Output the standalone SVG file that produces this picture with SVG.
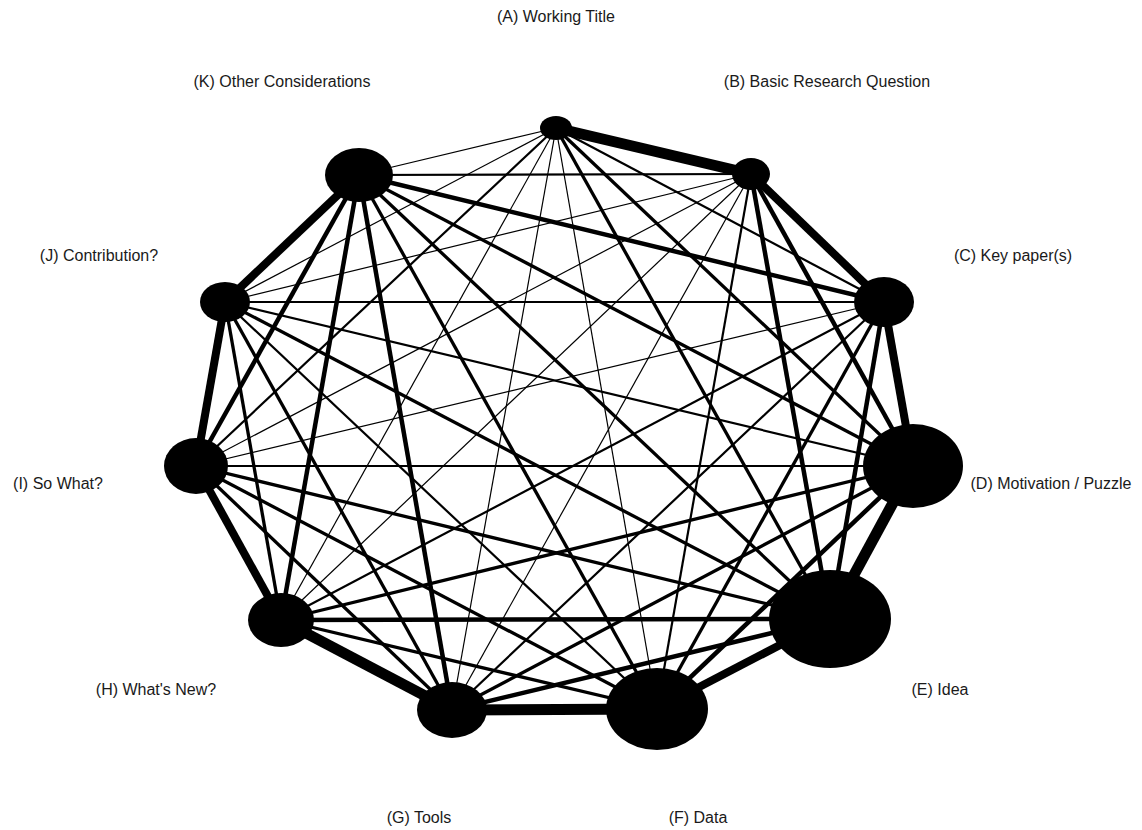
<svg xmlns="http://www.w3.org/2000/svg" width="1142" height="830" viewBox="0 0 1142 830">
<style>
.e{stroke:#000;fill:none}
.w1{stroke-width:1.2}.w2{stroke-width:2.2}.w3{stroke-width:3.3}.w4{stroke-width:4.5}.w7{stroke-width:8}.w9{stroke-width:11}
.n{fill:#000}
text{font-family:"Liberation Sans",Arial,sans-serif;font-size:16px;fill:#1a1a1a;text-anchor:middle}
</style>
<rect width="1142" height="830" fill="#fff"/>
<g id="connectors">
<line class="e w9" x1="556" y1="128" x2="751" y2="174"/>
<line class="e w2" x1="556" y1="128" x2="884" y2="302"/>
<line class="e w3" x1="556" y1="128" x2="913" y2="466"/>
<line class="e w3" x1="556" y1="128" x2="830" y2="619"/>
<line class="e w1" x1="556" y1="128" x2="657" y2="709"/>
<line class="e w1" x1="556" y1="128" x2="452" y2="710"/>
<line class="e w1" x1="556" y1="128" x2="281" y2="620"/>
<line class="e w2" x1="556" y1="128" x2="196" y2="466"/>
<line class="e w1" x1="556" y1="128" x2="225" y2="302"/>
<line class="e w1" x1="556" y1="128" x2="359" y2="175"/>
<line class="e w7" x1="751" y1="174" x2="884" y2="302"/>
<line class="e w4" x1="751" y1="174" x2="913" y2="466"/>
<line class="e w4" x1="751" y1="174" x2="830" y2="619"/>
<line class="e w2" x1="751" y1="174" x2="657" y2="709"/>
<line class="e w1" x1="751" y1="174" x2="452" y2="710"/>
<line class="e w1" x1="751" y1="174" x2="281" y2="620"/>
<line class="e w1" x1="751" y1="174" x2="196" y2="466"/>
<line class="e w1" x1="751" y1="174" x2="225" y2="302"/>
<line class="e w2" x1="751" y1="174" x2="359" y2="175"/>
<line class="e w7" x1="884" y1="302" x2="913" y2="466"/>
<line class="e w4" x1="884" y1="302" x2="830" y2="619"/>
<line class="e w3" x1="884" y1="302" x2="657" y2="709"/>
<line class="e w2" x1="884" y1="302" x2="452" y2="710"/>
<line class="e w2" x1="884" y1="302" x2="281" y2="620"/>
<line class="e w1" x1="884" y1="302" x2="196" y2="466"/>
<line class="e w2" x1="884" y1="302" x2="225" y2="302"/>
<line class="e w4" x1="884" y1="302" x2="359" y2="175"/>
<line class="e w9" x1="913" y1="466" x2="830" y2="619"/>
<line class="e w4" x1="913" y1="466" x2="657" y2="709"/>
<line class="e w3" x1="913" y1="466" x2="452" y2="710"/>
<line class="e w3" x1="913" y1="466" x2="281" y2="620"/>
<line class="e w2" x1="913" y1="466" x2="196" y2="466"/>
<line class="e w2" x1="913" y1="466" x2="225" y2="302"/>
<line class="e w3" x1="913" y1="466" x2="359" y2="175"/>
<line class="e w7" x1="830" y1="619" x2="657" y2="709"/>
<line class="e w4" x1="830" y1="619" x2="452" y2="710"/>
<line class="e w4" x1="830" y1="619" x2="281" y2="620"/>
<line class="e w3" x1="830" y1="619" x2="196" y2="466"/>
<line class="e w3" x1="830" y1="619" x2="225" y2="302"/>
<line class="e w3" x1="830" y1="619" x2="359" y2="175"/>
<line class="e w9" x1="657" y1="709" x2="452" y2="710"/>
<line class="e w3" x1="657" y1="709" x2="281" y2="620"/>
<line class="e w3" x1="657" y1="709" x2="196" y2="466"/>
<line class="e w2" x1="657" y1="709" x2="225" y2="302"/>
<line class="e w3" x1="657" y1="709" x2="359" y2="175"/>
<line class="e w9" x1="452" y1="710" x2="281" y2="620"/>
<line class="e w3" x1="452" y1="710" x2="196" y2="466"/>
<line class="e w3" x1="452" y1="710" x2="225" y2="302"/>
<line class="e w4" x1="452" y1="710" x2="359" y2="175"/>
<line class="e w7" x1="281" y1="620" x2="196" y2="466"/>
<line class="e w3" x1="281" y1="620" x2="225" y2="302"/>
<line class="e w4" x1="281" y1="620" x2="359" y2="175"/>
<line class="e w7" x1="196" y1="466" x2="225" y2="302"/>
<line class="e w4" x1="196" y1="466" x2="359" y2="175"/>
<line class="e w7" x1="225" y1="302" x2="359" y2="175"/>
</g>
<g id="node-A"><ellipse class="n" cx="556" cy="128" rx="16" ry="12"/><text x="556" y="22">(A) Working Title</text></g>
<g id="node-B"><ellipse class="n" cx="751" cy="174" rx="19" ry="16"/><text x="827" y="87">(B) Basic Research Question</text></g>
<g id="node-C"><ellipse class="n" cx="884" cy="302" rx="30" ry="25"/><text x="1013" y="261">(C) Key paper(s)</text></g>
<g id="node-D"><ellipse class="n" cx="913" cy="466" rx="50" ry="42"/><text x="1051" y="489">(D) Motivation / Puzzle</text></g>
<g id="node-E"><ellipse class="n" cx="830" cy="619" rx="61" ry="49"/><text x="940" y="695">(E) Idea</text></g>
<g id="node-F"><ellipse class="n" cx="657" cy="709" rx="51" ry="41"/><text x="698" y="823">(F) Data</text></g>
<g id="node-G"><ellipse class="n" cx="452" cy="710" rx="35" ry="28"/><text x="419" y="823">(G) Tools</text></g>
<g id="node-H"><ellipse class="n" cx="281" cy="620" rx="33" ry="27"/><text x="156" y="695">(H) What's New?</text></g>
<g id="node-I"><ellipse class="n" cx="196" cy="466" rx="32" ry="28"/><text x="58" y="489">(I) So What?</text></g>
<g id="node-J"><ellipse class="n" cx="225" cy="302" rx="25" ry="20"/><text x="99" y="261">(J) Contribution?</text></g>
<g id="node-K"><ellipse class="n" cx="359" cy="175" rx="34" ry="27"/><text x="282" y="87">(K) Other Considerations</text></g>
</svg>
